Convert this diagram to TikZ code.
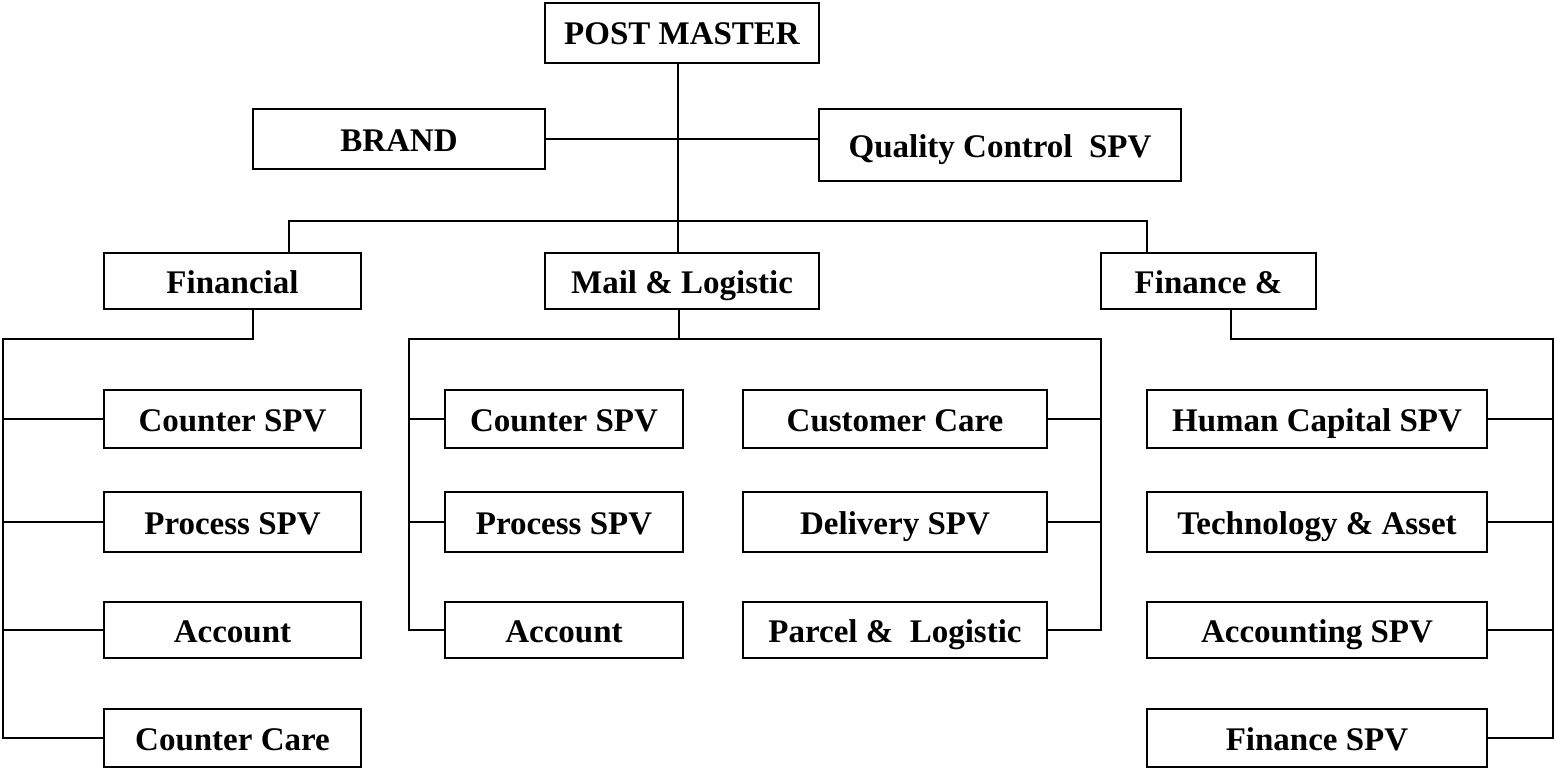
\documentclass[tikz,border=0pt]{standalone}
\usepackage{fontspec}
\setmainfont{Liberation Serif}
\begin{document}
\begin{tikzpicture}[x=1bp, y=-1bp,
  orgbox/.style={draw, line width=1.8bp, inner sep=0pt, fill=white,
    text height=29bp, text depth=5bp,
    font=\fontsize{33bp}{39bp}\selectfont\bfseries},
  wire/.style={line width=1.8bp, line cap=rect}]
\useasboundingbox (0,0) rectangle (1555,769);

% \orgnode{name}{centre x}{centre y}{width}{height}{label}
\newcommand\orgnode[6]{%
  \node[orgbox, minimum width=#4bp, minimum height=#5bp] (#1) at (#2,#3) {#6};}

% top level
\orgnode{pm}{682}{33}{274}{60}{POST MASTER}
\orgnode{brand}{399}{139}{292}{60}{BRAND}
\orgnode{qc}{1000}{145}{362}{72}{Quality Control\ \ SPV}

% second level
\orgnode{fin}{232.5}{281}{257}{56}{Financial}
\orgnode{mail}{682}{281}{274}{56}{Mail \& Logistic}
\orgnode{fa}{1208.5}{281}{215}{56}{Finance \&}

% Financial column
\orgnode{f1}{232.5}{419}{257}{58}{Counter SPV}
\orgnode{f2}{232.5}{522}{257}{60}{Process SPV}
\orgnode{f3}{232.5}{630}{257}{56}{Account}
\orgnode{f4}{232.5}{738}{257}{58}{Counter Care}

% Mail & Logistic columns
\orgnode{ma1}{564}{419}{238}{58}{Counter SPV}
\orgnode{ma2}{564}{522}{238}{60}{Process SPV}
\orgnode{ma3}{564}{630}{238}{56}{Account}
\orgnode{mb1}{895}{419}{304}{58}{Customer Care}
\orgnode{mb2}{895}{522}{304}{60}{Delivery SPV}
\orgnode{mb3}{895}{630}{304}{56}{Parcel \&\ \ Logistic}

% Finance column
\orgnode{r1}{1317}{419}{340}{58}{Human Capital SPV}
\orgnode{r2}{1317}{522}{340}{60}{Technology \& Asset}
\orgnode{r3}{1317}{630}{340}{56}{Accounting SPV}
\orgnode{r4}{1317}{738}{340}{58}{Finance SPV}

% bus lines and corner points
\coordinate (trunk) at (678,0);
\coordinate (busL) at (289,221);
\coordinate (busR) at (1147,221);
\coordinate (finDrop) at (253,339);
\coordinate (finRail) at (3,339);
\coordinate (mailDrop) at (679,339);
\coordinate (mailL) at (409,339);
\coordinate (mailR) at (1101,339);
\coordinate (faDrop) at (1231,339);
\coordinate (faRail) at (1553,339);

\begin{scope}[on background layer/.try]
\draw[wire] (pm.south -| trunk) -- (mail.north -| trunk);
\draw[wire] (brand.east) -- (qc.west |- brand.east);
\draw[wire] (fin.north -| busL) -- (busL) -- (busR) -- (fa.north -| busR);

% Financial branch
\draw[wire] (fin.south -| finDrop) -- (finDrop) -- (finRail) -- (finRail |- f4.west);
\foreach \n in {f1,f2,f3,f4} \draw[wire] (finRail |- \n.west) -- (\n.west);

% Mail & Logistic branch
\draw[wire] (mail.south -| mailDrop) -- (mailDrop);
\draw[wire] (mailL |- ma3.west) -- (mailL) -- (mailR) -- (mailR |- mb3.east);
\foreach \n in {ma1,ma2,ma3} \draw[wire] (mailL |- \n.west) -- (\n.west);
\foreach \n in {mb1,mb2,mb3} \draw[wire] (\n.east) -- (mailR |- \n.east);

% Finance branch
\draw[wire] (fa.south -| faDrop) -- (faDrop) -- (faRail) -- (faRail |- r4.east);
\foreach \n in {r1,r2,r3,r4} \draw[wire] (\n.east) -- (faRail |- \n.east);
\end{scope}
\end{tikzpicture}
\end{document}
